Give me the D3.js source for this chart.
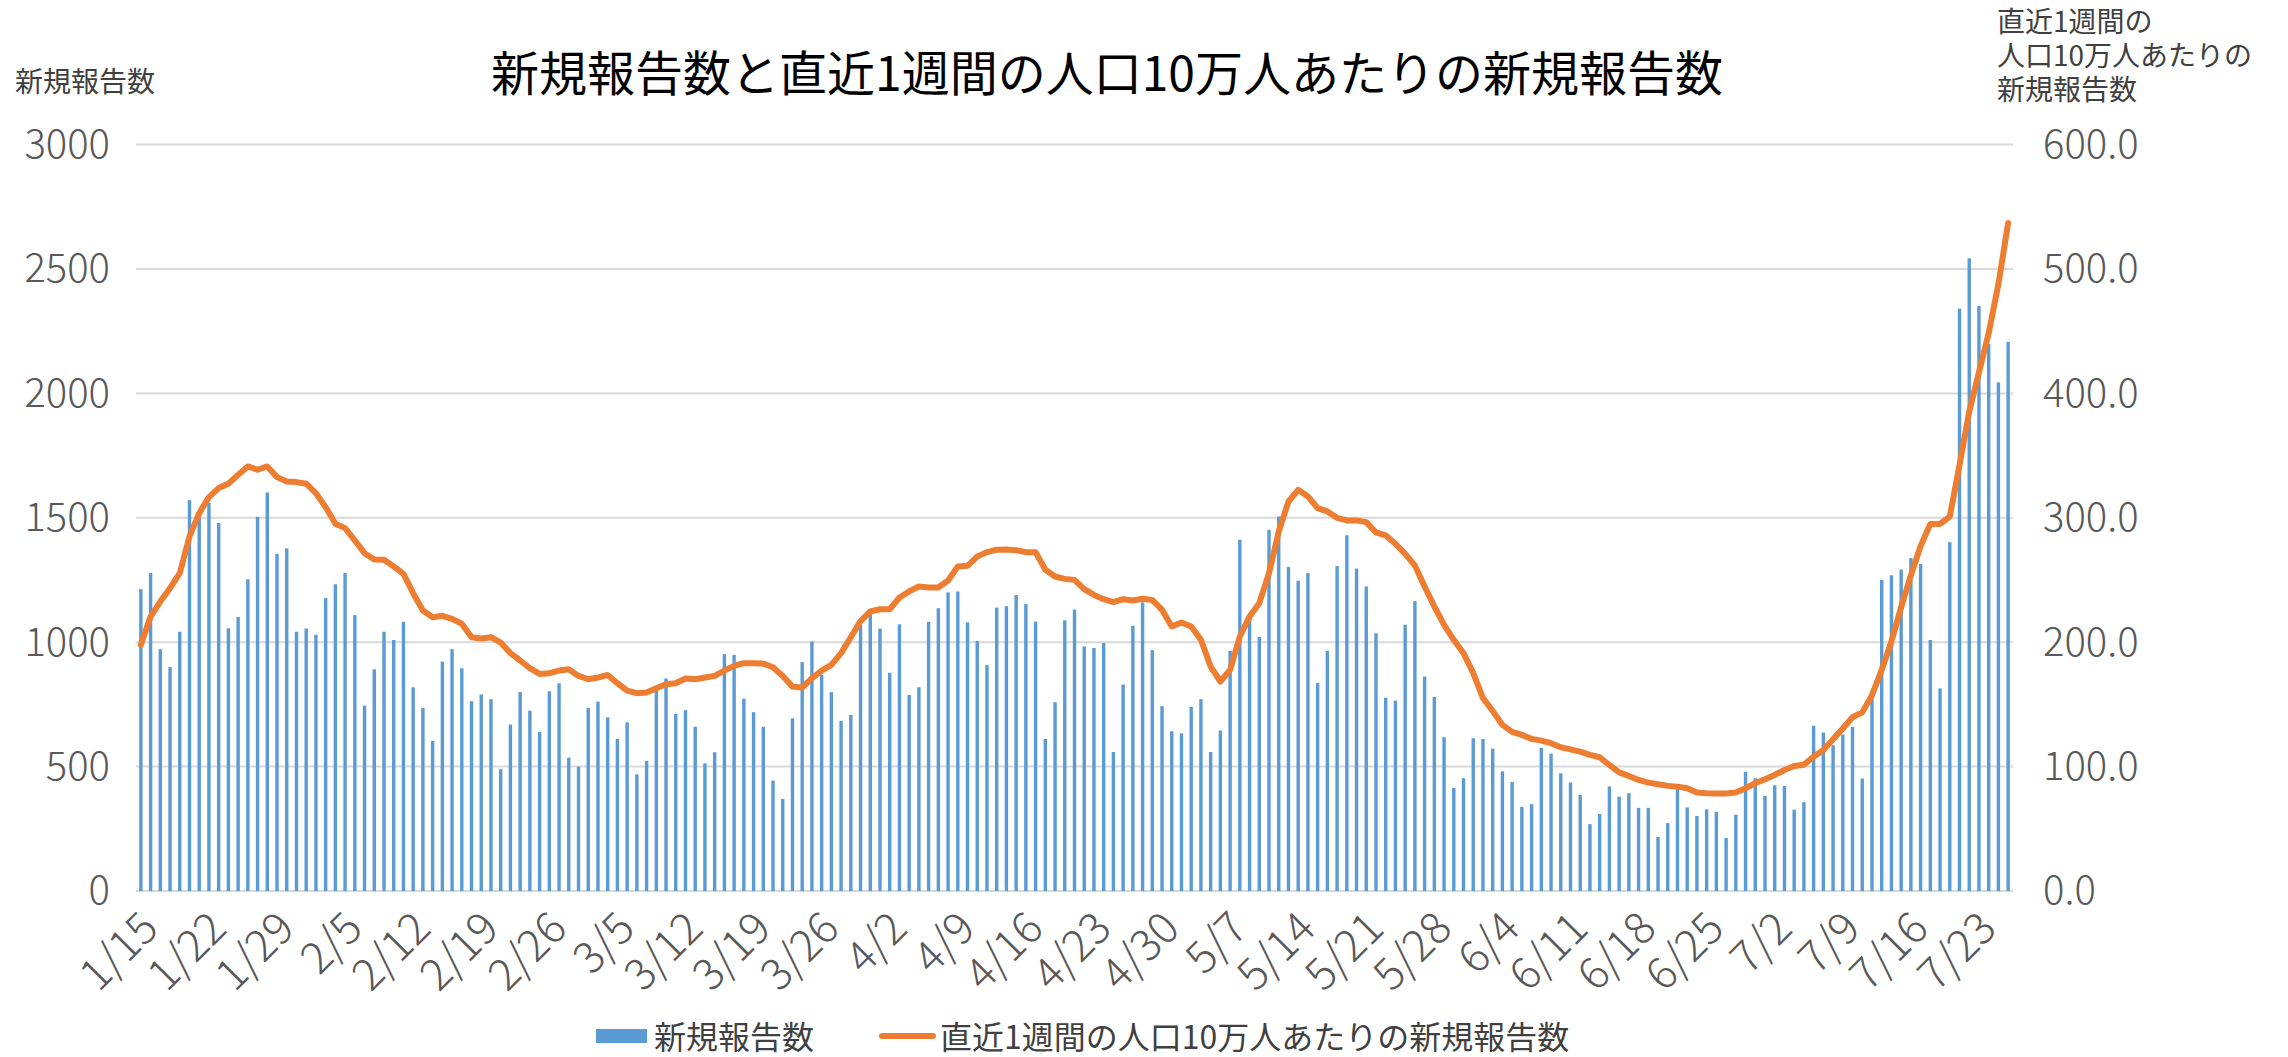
<!DOCTYPE html>
<html>
<head>
<meta charset="utf-8">
<script src="https://cdnjs.cloudflare.com/ajax/libs/d3/7.8.5/d3.min.js"></script>
<style>
  body { margin: 0; background: #fff; }
  text { font-family: "Noto Sans CJK JP", "Noto Sans", sans-serif; }
</style>
</head>
<body>
<svg id="chart" width="2288" height="1057"></svg>
<script>
// categories: one bar per day, 2022/1/15 - 2022/7/26
var days = d3.timeDay.range(new Date(2022, 0, 15), new Date(2022, 6, 27))
var tick_labels = ["1/15","1/22","1/29","2/5","2/12","2/19","2/26","3/5","3/12","3/19","3/26","4/2","4/9","4/16","4/23","4/30","5/7","5/14","5/21","5/28","6/4","6/11","6/18","6/25","7/2","7/9","7/16","7/23"]

var left_ticks  = [0, 500, 1000, 1500, 2000, 2500, 3000]
var right_ticks = [0, 100, 200, 300, 400, 500, 600]

// 新規報告数 (daily)
var new_cases = [
	1213,1278,972,900,1042,1571,1520,1560,1479,1056,1101,1253,1504,1602,1355,1377,1042,1055,1030,1177,1233,1278,1109,745,891,
	1042,1009,1082,819,736,603,922,972,895,763,790,771,489,669,800,725,639,803,835,536,500,736,761,698,611,
	678,469,523,806,854,712,727,660,513,558,952,949,773,719,660,444,370,694,920,1003,869,799,684,708,
	1070,1133,1055,877,1072,788,819,1082,1137,1200,1204,1080,1005,908,1139,1145,1190,1153,1083,611,759,1088,1131,983,977,
	997,559,830,1066,1160,968,743,642,634,740,771,559,645,965,1412,1100,1021,1452,1505,1302,1247,1278,836,965,1306,
	1430,1296,1224,1036,777,765,1070,1165,862,780,618,414,453,614,611,572,481,438,338,349,575,552,473,436,386,
	269,310,420,379,393,334,334,217,273,410,336,302,328,318,213,307,479,453,382,425,422,327,357,664,
	637,586,629,659,452,787,1251,1269,1292,1338,1314,1009,814,1402,2341,2543,2351,2199,2044,2207
]

// 直近1週間の人口10万人あたりの新規報告数
var weekly_rate = [
	197.9,220.6,232.7,243.4,255.5,285,303.8,316.6,323.9,327.4,334.6,341.3,338.6,341.3,332.7,329.2,328.7,327.4,319.8,308.6,295.2,291.7,281.8,271.6,266.4,
	266.2,260.9,255,239.4,225.5,220.1,221.2,218.8,214.8,204,203,204,199.7,191.2,185.3,179.1,174.5,175.1,177.2,178.3,172.9,170.2,171.6,173.7,167,
	161.1,159,159.5,163,166.2,167,170.8,170.2,171.6,172.9,177.2,181,183.1,183.1,182.8,179.9,172.9,164.3,163.5,171,177.2,181.8,191.2,204,
	217,224.7,226.5,226.5,235.9,240.8,244.8,244,244,249.6,260.9,261.4,268.9,272.4,274.3,274.5,274,272.4,272.4,258.2,252.8,250.9,250.1,242.6,238,
	234.6,232.2,234.6,233.5,234.9,234,226,212.6,215.8,212.6,201.9,180.4,168.4,177.8,204.6,220.6,231.4,255.5,289,313.1,322.5,317.2,307.8,305.1,300,
	297.9,297.9,296.5,288.2,285.8,279.1,271,261.7,244.8,228.7,213.9,201.9,191.2,175.1,155,144.8,133.5,127.9,125.5,122.3,120.9,118.8,115.6,113.9,112,
	109.4,107.5,101.3,95.4,92.5,89.3,87.1,85.8,84.5,83.9,82.6,79.1,78.6,78.3,78.3,79.1,82.6,86.6,89.8,93.3,97.3,100.5,101.5,108,
	113.3,122,130.6,139.7,143.6,157.4,177.8,200.6,228.2,253.7,277.3,295.1,295.1,301,342.3,385.5,417,448.5,487.8,537
]

var fmt = d3.timeFormat("%-m/%-d")
var rows = days.map((d, i) => ({ label: fmt(d), cases: new_cases[i], rate: weekly_rate[i] }))

function draw_chart () {
	var svg = d3.select("#chart"),
	    left = 136, right = 2013, top = 144.6, bottom = 891

	var x_scale = d3.scaleBand()
	                .domain(rows.map(d => d.label))
	                .range([left, right])
	                .paddingInner(0.65)
	                .paddingOuter(0.325),
	    y_left  = d3.scaleLinear().domain([0, 3000]).range([bottom, top]),
	    y_right = d3.scaleLinear().domain([0, 600]).range([bottom, top])

	// gridlines
	svg.append("g")
	   .selectAll("line")
	   .data(left_ticks)
	   .enter()
	   .append("line")
	   .attr("x1", left).attr("x2", right)
	   .attr("y1", d => y_left(d)).attr("y2", d => y_left(d))
	   .style("stroke", "#d9d9d9")
	   .style("stroke-width", 2)

	// left axis
	var ax_l = svg.append("g")
	   .attr("transform", "translate(" + (left - 26) + ",0)")
	   .call(d3.axisLeft(y_left).tickValues(left_ticks).tickFormat(d3.format("d")).tickSize(0).tickPadding(0))
	ax_l.select(".domain").remove()
	ax_l.selectAll("text")
	   .style("font-size", "40px")
	   .style("font-weight", 300)
	   .style("fill", "#595959")

	// right axis
	var ax_r = svg.append("g")
	   .attr("transform", "translate(" + (right + 30) + ",0)")
	   .call(d3.axisRight(y_right).tickValues(right_ticks).tickFormat(d3.format(".1f")).tickSize(0).tickPadding(0))
	ax_r.select(".domain").remove()
	ax_r.selectAll("text")
	   .style("font-size", "40px")
	   .style("font-weight", 300)
	   .style("fill", "#595959")

	// bars
	svg.append("g")
	   .selectAll("rect")
	   .data(rows)
	   .enter()
	   .append("rect")
	   .attr("x", d => x_scale(d.label))
	   .attr("width", x_scale.bandwidth())
	   .attr("y", d => y_left(d.cases))
	   .attr("height", d => bottom - y_left(d.cases))
	   .style("fill", "#5b9bd5")

	// line
	var line = d3.line()
	             .x(d => x_scale(d.label) + x_scale.bandwidth() / 2)
	             .y(d => y_right(d.rate))
	svg.append("path")
	   .datum(rows)
	   .attr("d", line)
	   .style("fill", "none")
	   .style("stroke", "#ed7d31")
	   .style("stroke-width", 6)
	   .style("stroke-linejoin", "round")
	   .style("stroke-linecap", "round")

	// x tick labels
	svg.append("g")
	   .selectAll("text")
	   .data(tick_labels)
	   .enter()
	   .append("text")
	   .attr("transform", d => "translate(" + (x_scale(d) + x_scale.bandwidth() / 2 - 2) + "," + (bottom + 18) + ") rotate(-45)")
	   .attr("text-anchor", "end")
	   .attr("dy", "0.7em")
	   .style("font-size", "44px")
	   .style("font-weight", 300)
	   .style("fill", "#595959")
	   .text(d => d)

	// titles
	svg.append("text")
	   .attr("x", 1107).attr("y", 70)
	   .attr("text-anchor", "middle")
	   .attr("dominant-baseline", "central")
	   .style("font-size", "48px")
	   .style("fill", "#000")
	   .text("新規報告数と直近1週間の人口10万人あたりの新規報告数")

	svg.append("text")
	   .attr("x", 15).attr("y", 80)
	   .attr("dominant-baseline", "central")
	   .style("font-size", "28px")
	   .style("fill", "#404040")
	   .text("新規報告数")

	svg.append("g")
	   .selectAll("text")
	   .data(["直近1週間の", "人口10万人あたりの", "新規報告数"])
	   .enter()
	   .append("text")
	   .attr("x", 1997)
	   .attr("y", (d, i) => 20 + i * 34)
	   .attr("dominant-baseline", "central")
	   .style("font-size", "28px")
	   .style("fill", "#404040")
	   .text(d => d)

	// legend
	var lg = svg.append("g")
	lg.append("rect")
	  .attr("x", 596).attr("y", 1029).attr("width", 51).attr("height", 14)
	  .style("fill", "#5b9bd5")
	lg.append("text")
	  .attr("x", 654).attr("y", 1035)
	  .attr("dominant-baseline", "central")
	  .style("font-size", "32px")
	  .style("fill", "#404040")
	  .text("新規報告数")
	lg.append("line")
	  .attr("x1", 882).attr("x2", 933).attr("y1", 1036).attr("y2", 1036)
	  .style("stroke", "#ed7d31")
	  .style("stroke-width", 6)
	  .style("stroke-linecap", "round")
	lg.append("text")
	  .attr("x", 940).attr("y", 1035)
	  .attr("dominant-baseline", "central")
	  .style("font-size", "32px")
	  .style("fill", "#404040")
	  .text("直近1週間の人口10万人あたりの新規報告数")
}

draw_chart()
</script>
</body>
</html>
